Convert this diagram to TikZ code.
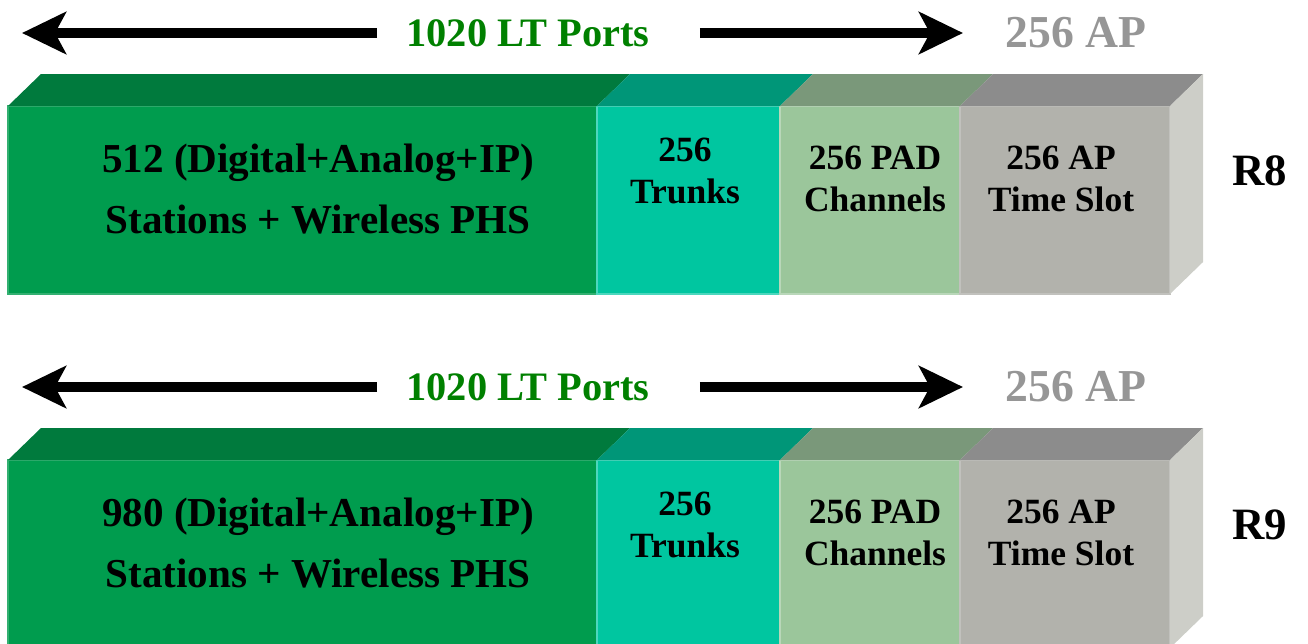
\documentclass[tikz,border=0pt]{standalone}
\usepackage{fontspec}
\setmainfont{Liberation Serif}
\usepackage{xcolor}
\usetikzlibrary{arrows.meta}

\definecolor{gfront}{RGB}{0,156,78}
\definecolor{gtop}{RGB}{0,122,61}
\definecolor{tfront}{RGB}{0,198,160}
\definecolor{ttop}{RGB}{0,150,120}
\definecolor{pfront}{RGB}{155,198,155}
\definecolor{ptop}{RGB}{122,152,122}
\definecolor{afront}{RGB}{178,178,172}
\definecolor{atop}{RGB}{140,140,140}
\definecolor{sideface}{RGB}{205,206,200}
\definecolor{ltgreen}{RGB}{0,128,0}
\definecolor{apgray}{RGB}{150,150,150}

\begin{document}
\begin{tikzpicture}[
  x=0.02cm, y=-0.02cm,
  every node/.style={inner sep=0pt},
  edge/.style={line width=0.6pt},
  span/.style={line width=0.2cm,
               -{Stealth[length=0.88cm, width=0.84cm, inset=0.22cm]}},
  mainlabel/.style={align=center, anchor=base,
                    font=\fontsize{23.4}{34.6}\selectfont\bfseries},
  seglabel/.style={align=center, anchor=base,
                   font=\fontsize{20.2}{23.5}\selectfont\bfseries},
  release/.style={font=\fontsize{25.5}{25.5}\selectfont\bfseries},
]
  \useasboundingbox (0,0) rectangle (1308,643);
  \clip (0,0) rectangle (1308,643);

  \foreach \dy/\num/\rel in {0/512/R8, 354/980/R9} {
    \begin{scope}[shift={(0,\dy)}]
      % Front faces
      \filldraw[edge, fill=gfront, draw=gfront!80!white] (8,106) rectangle (597,294);
      \filldraw[edge, fill=tfront, draw=tfront!70!white] (597,106) rectangle (780,294);
      \filldraw[edge, fill=pfront, draw=pfront!70!white] (780,106) rectangle (960,294);
      \filldraw[edge, fill=afront, draw=afront!80!white] (960,106) rectangle (1170,294);

      % Top faces
      \fill[gtop] (8,106) -- (597,106) -- (630,74) -- (41,74) -- cycle;
      \fill[ttop] (597,106) -- (780,106) -- (813,74) -- (630,74) -- cycle;
      \fill[ptop] (780,106) -- (960,106) -- (993,74) -- (813,74) -- cycle;
      \fill[atop] (960,106) -- (1170,106) -- (1203,74) -- (993,74) -- cycle;

      % Side face
      \fill[sideface] (1170,106) -- (1203,74) -- (1203,262) -- (1170,294) -- cycle;

      % Span labels and arrows
      \node[text=ltgreen, font=\fontsize{23}{23}\selectfont\bfseries]
        (lt\rel) at (528,33) {1020 LT Ports};
      \node[text=apgray, font=\fontsize{26}{26}\selectfont\bfseries]
        (ap\rel) at (1076,33) {256 AP};
      \coordinate (lend\rel) at (22,34);
      \coordinate (rend\rel) at (963,34);
      \draw[span] ([xshift=-0.58cm]lt\rel.west) -- (lt\rel.west -| lend\rel);
      \draw[span] ([xshift=1cm]lt\rel.east) -- (lt\rel.east -| rend\rel);

      % Segment labels (base = last line)
      \node[mainlabel] (st\rel) at (318,233)
        {\num{} (Digital+Analog+IP)\\Stations + Wireless PHS};
      \node[seglabel] (tr\rel) at (685,203) {256\\Trunks};
      \node[seglabel] (pad\rel) at (875,211) {256 PAD\\Channels};
      \node[seglabel] (slot\rel) at (1061,211) {256 AP\\Time Slot};
      \node[release] (name\rel) at (1260,171) {\rel};
    \end{scope}
  }
\end{tikzpicture}
\end{document}
